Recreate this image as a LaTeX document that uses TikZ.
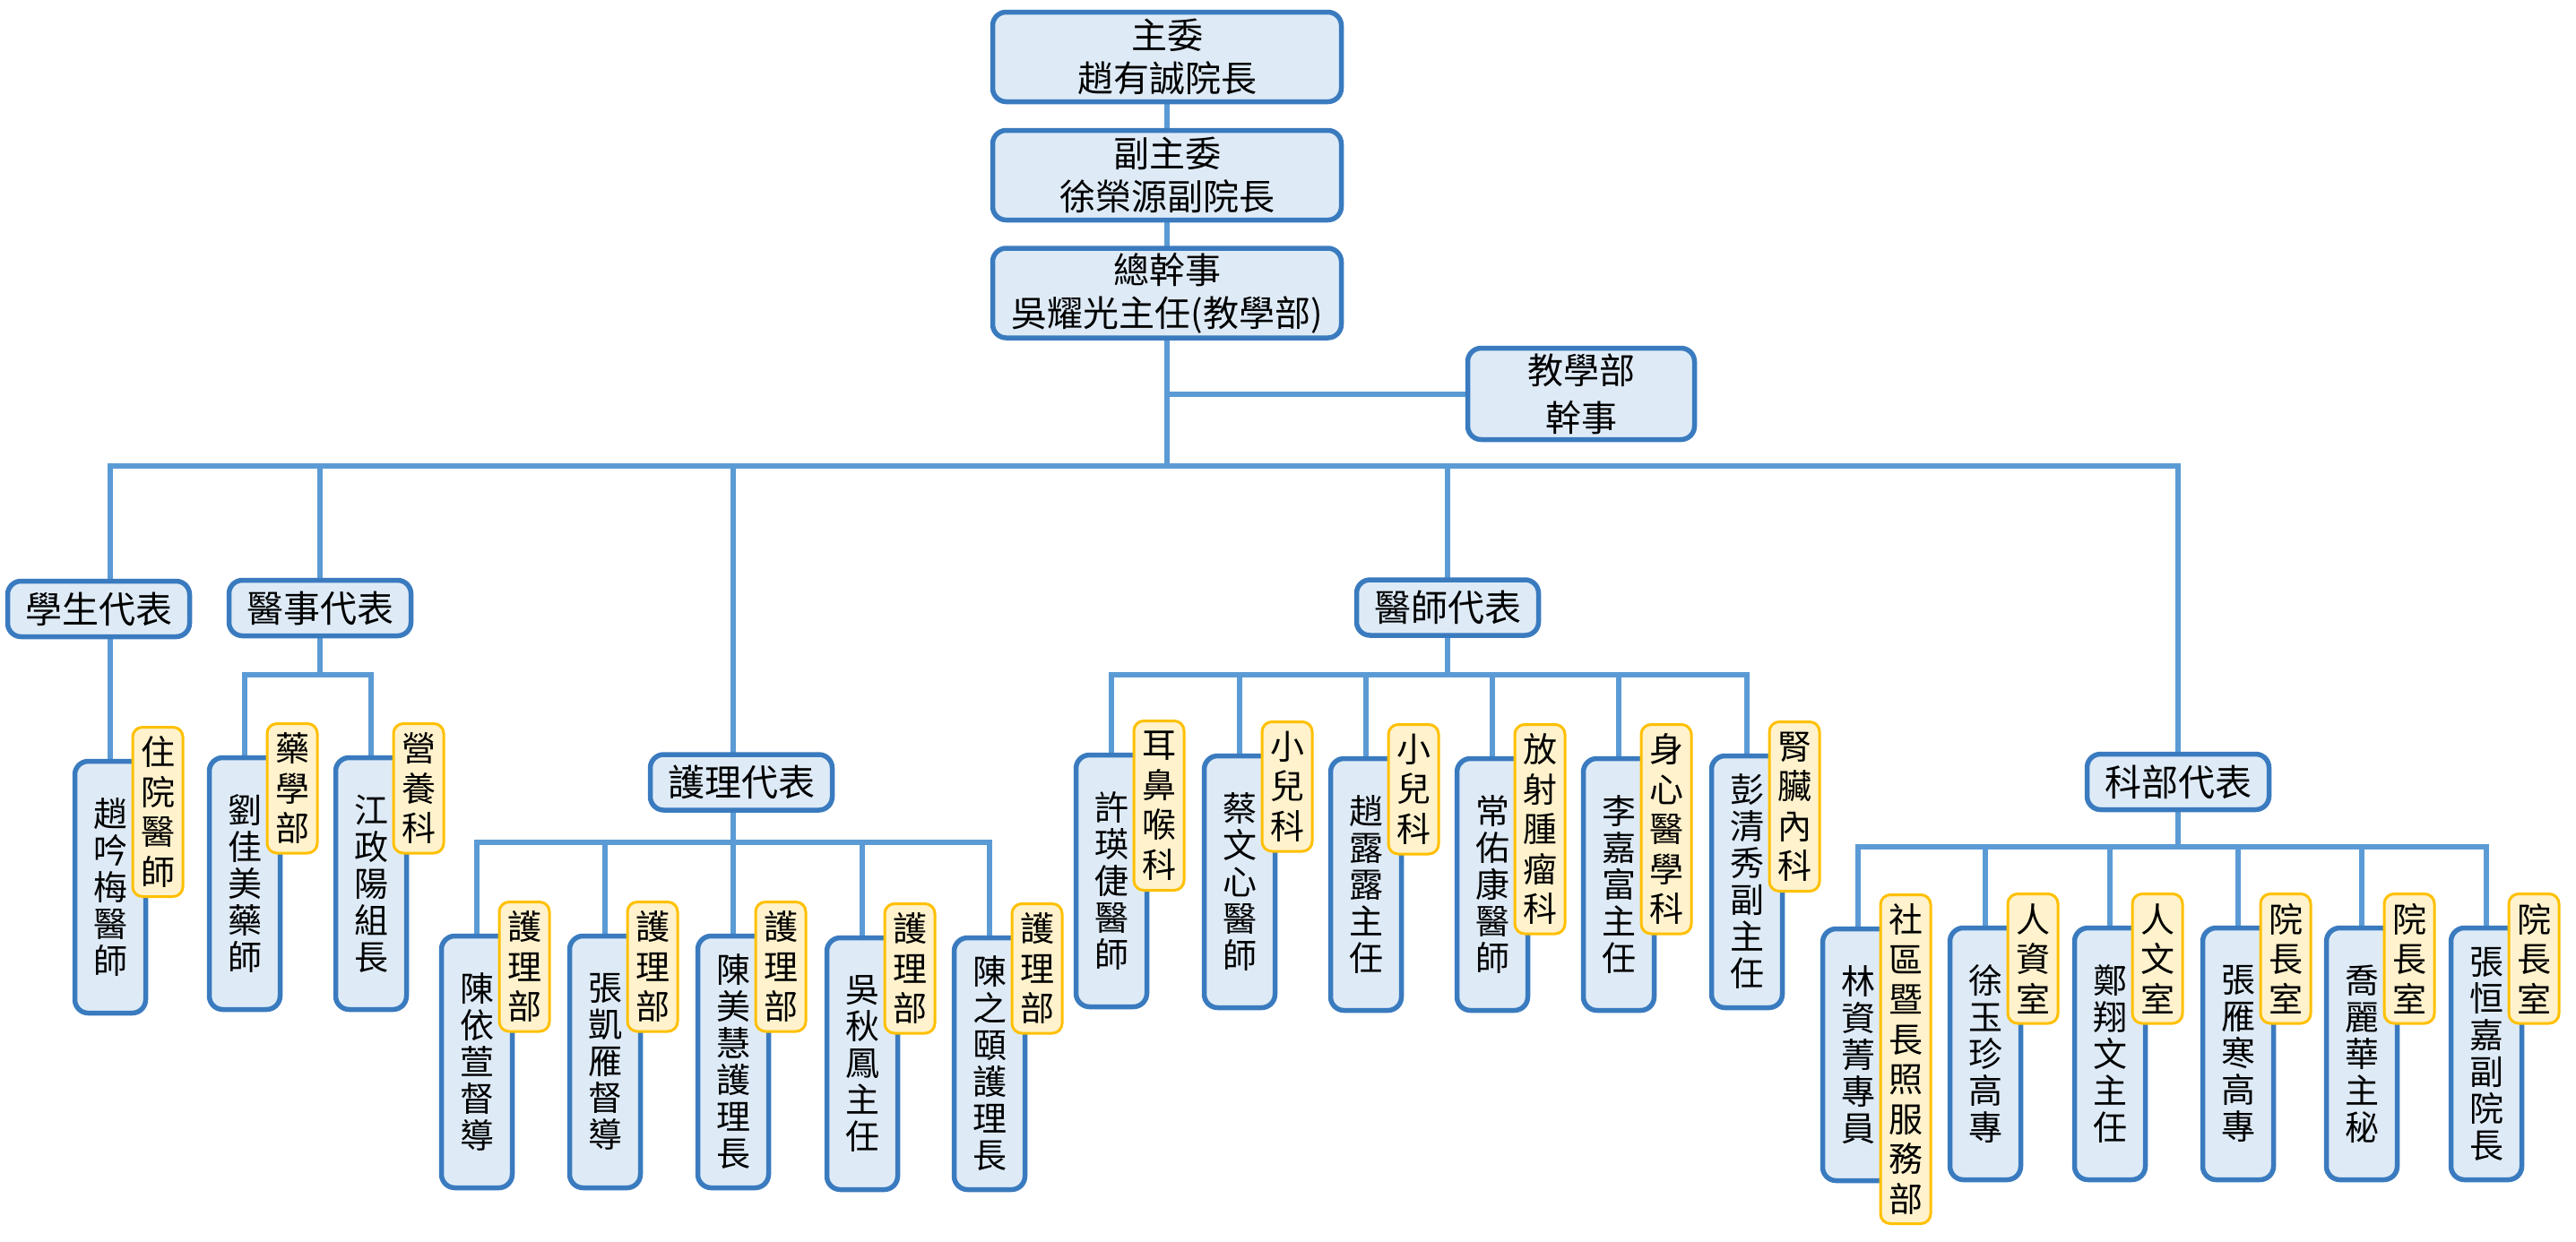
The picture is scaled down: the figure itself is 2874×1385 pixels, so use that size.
\documentclass[tikz,border=0pt]{standalone}
\usepackage{fontspec}
\newfontfamily\cjk{Noto Sans CJK TC}
\usetikzlibrary{calc}
\definecolor{boxblue}{HTML}{3A7BBF}
\definecolor{boxfill}{HTML}{DEEBF7}
\definecolor{linkblue}{HTML}{5B9BD5}
\definecolor{tagfill}{HTML}{FFF2CC}
\definecolor{tagline}{HTML}{FFC000}
\pgfdeclarelayer{bg}
\pgfsetlayers{bg,main}
\tikzset{
  basebox/.style={draw=boxblue, fill=boxfill, line width=5.5pt, rounded corners=15pt,
    inner sep=0pt, outer sep=0pt, align=center, text=black},
  topbox/.style={basebox, minimum width=389pt, minimum height=100pt,
    font={\cjk\fontsize{40}{48}\selectfont}},
  headbox/.style={basebox, minimum width=203pt, minimum height=62pt,
    font={\cjk\fontsize{41}{48}\selectfont}},
  memberbox/.style={basebox, minimum width=79pt, minimum height=281pt,
    font={\cjk\fontsize{38}{41}\selectfont}},
  tagbox/.style={draw=tagline, fill=tagfill, line width=3pt, rounded corners=11pt,
    inner sep=0pt, outer sep=0pt, align=center, text=black, minimum width=56pt,
    font={\cjk\fontsize{38}{44.5}\selectfont}},
  link/.style={draw=linkblue, line width=6pt}
}
\newcommand\orgmember[6]{%
  \node[memberbox] (#1) at (#2,#3) {#4};
  \node[tagbox, minimum height={44.5*#6+11}, anchor=north] (#1t) at ($(#1.north)+(53,-38)$) {#5};
}
\begin{document}
\begin{tikzpicture}[x=1pt,y=-1pt]
\useasboundingbox (0,0) rectangle (2874,1385);

% top chain
\node[topbox] (zw)  at (1302,63.5)  {主委\\趙有誠院長};
\node[topbox] (fzw) at (1302,195.5) {副主委\\徐榮源副院長};
\node[topbox] (zgs) at (1302,327)   {總幹事\\吳耀光主任(教學部)};
\node[basebox, minimum width=253pt, minimum height=102pt,
      font={\cjk\fontsize{40}{53}\selectfont}] (jxb) at (1764,439.5) {教學部\\幹事};

% heads
\node[headbox] (stu) at (110,679.5) {學生代表};
\node[headbox] (yis) at (357,678.5) {醫事代表};
\node[headbox] (hl)  at (827,873)   {護理代表};
\node[headbox] (ys)  at (1615,678)  {醫師代表};
\node[headbox] (kb)  at (2430,872.5){科部代表};

\coordinate (bus) at (0,520);
\coordinate (sba) at (0,753);
\coordinate (sbb) at (0,940);
\coordinate (sbc) at (0,753);
\coordinate (sbd) at (0,945);

% students
\orgmember{a1}{123}{990}{趙\\吟\\梅\\醫\\師}{住\\院\\醫\\師}{4}
% medical affairs
\orgmember{b1}{273}{986}{劉\\佳\\美\\藥\\師}{藥\\學\\部}{3}
\orgmember{b2}{414}{986}{江\\政\\陽\\組\\長}{營\\養\\科}{3}
% nursing
\orgmember{c1}{532}{1185}{陳\\依\\萱\\督\\導}{護\\理\\部}{3}
\orgmember{c2}{675}{1185}{張\\凱\\雁\\督\\導}{護\\理\\部}{3}
\orgmember{c3}{818}{1185}{陳\\美\\慧\\護\\理\\長}{護\\理\\部}{3}
\orgmember{c4}{962}{1187}{吳\\秋\\鳳\\主\\任}{護\\理\\部}{3}
\orgmember{c5}{1104}{1187}{陳\\之\\頤\\護\\理\\長}{護\\理\\部}{3}
% doctors
\orgmember{d1}{1240}{983}{許\\瑛\\倢\\醫\\師}{耳\\鼻\\喉\\科}{4}
\orgmember{d2}{1383}{984}{蔡\\文\\心\\醫\\師}{小\\兒\\科}{3}
\orgmember{d3}{1524}{987}{趙\\露\\露\\主\\任}{小\\兒\\科}{3}
\orgmember{d4}{1665}{987}{常\\佑\\康\\醫\\師}{放\\射\\腫\\瘤\\科}{5}
\orgmember{d5}{1806}{987}{李\\嘉\\富\\主\\任}{身\\心\\醫\\學\\科}{5}
\orgmember{d6}{1949}{984}{彭\\清\\秀\\副\\主\\任}{腎\\臟\\內\\科}{4}
% departments
\orgmember{e1}{2073}{1177}{林\\資\\菁\\專\\員}{社\\區\\暨\\長\\照\\服\\務\\部}{8}
\orgmember{e2}{2215}{1176}{徐\\玉\\珍\\高\\專}{人\\資\\室}{3}
\orgmember{e3}{2354}{1176}{鄭\\翔\\文\\主\\任}{人\\文\\室}{3}
\orgmember{e4}{2497}{1176}{張\\雁\\寒\\高\\專}{院\\長\\室}{3}
\orgmember{e5}{2635}{1176}{喬\\麗\\華\\主\\秘}{院\\長\\室}{3}
\orgmember{e6}{2774}{1176}{張\\恒\\嘉\\副\\院\\長}{院\\長\\室}{3}

\begin{pgfonlayer}{bg}
  \fill[white] (0,0) rectangle (2874,1385);
  \draw[link] (zw.south) -- (fzw.north);
  \draw[link] (fzw.south) -- (zgs.north);
  \draw[link] (zgs.south) -- (zgs.south |- bus);
  \draw[link] (zgs.south |- jxb.west) -- (jxb.west);
  % main bus
  \draw[link] (a1.north |- stu.north) -- (a1.north |- bus) -- (kb.north |- bus) -- (kb.north);
  \draw[link] (yis.north |- bus) -- (yis.north);
  \draw[link] (c3.north |- bus) -- (c3.north |- hl.north);
  \draw[link] (ys.north |- bus) -- (ys.north);
  % students
  \draw[link] (a1.north |- stu.south) -- (a1.north);
  % medical affairs
  \draw[link] (yis.south) -- (yis.south |- sba);
  \draw[link] (b1.north) -- (b1.north |- sba) -- (b2.north |- sba) -- (b2.north);
  % nursing
  \draw[link] (c3.north |- hl.south) -- (c3.north |- sbb);
  \draw[link] (c1.north) -- (c1.north |- sbb) -- (c5.north |- sbb) -- (c5.north);
  \foreach \m in {c2,c3,c4} \draw[link] (\m.north) -- (\m.north |- sbb);
  % doctors
  \draw[link] (ys.south) -- (ys.south |- sbc);
  \draw[link] (d1.north) -- (d1.north |- sbc) -- (d6.north |- sbc) -- (d6.north);
  \foreach \m in {d2,d3,d4,d5} \draw[link] (\m.north) -- (\m.north |- sbc);
  % departments
  \draw[link] (kb.south) -- (kb.south |- sbd);
  \draw[link] (e1.north) -- (e1.north |- sbd) -- (e6.north |- sbd) -- (e6.north);
  \foreach \m in {e2,e3,e4,e5} \draw[link] (\m.north) -- (\m.north |- sbd);
\end{pgfonlayer}
\end{tikzpicture}
\end{document}
